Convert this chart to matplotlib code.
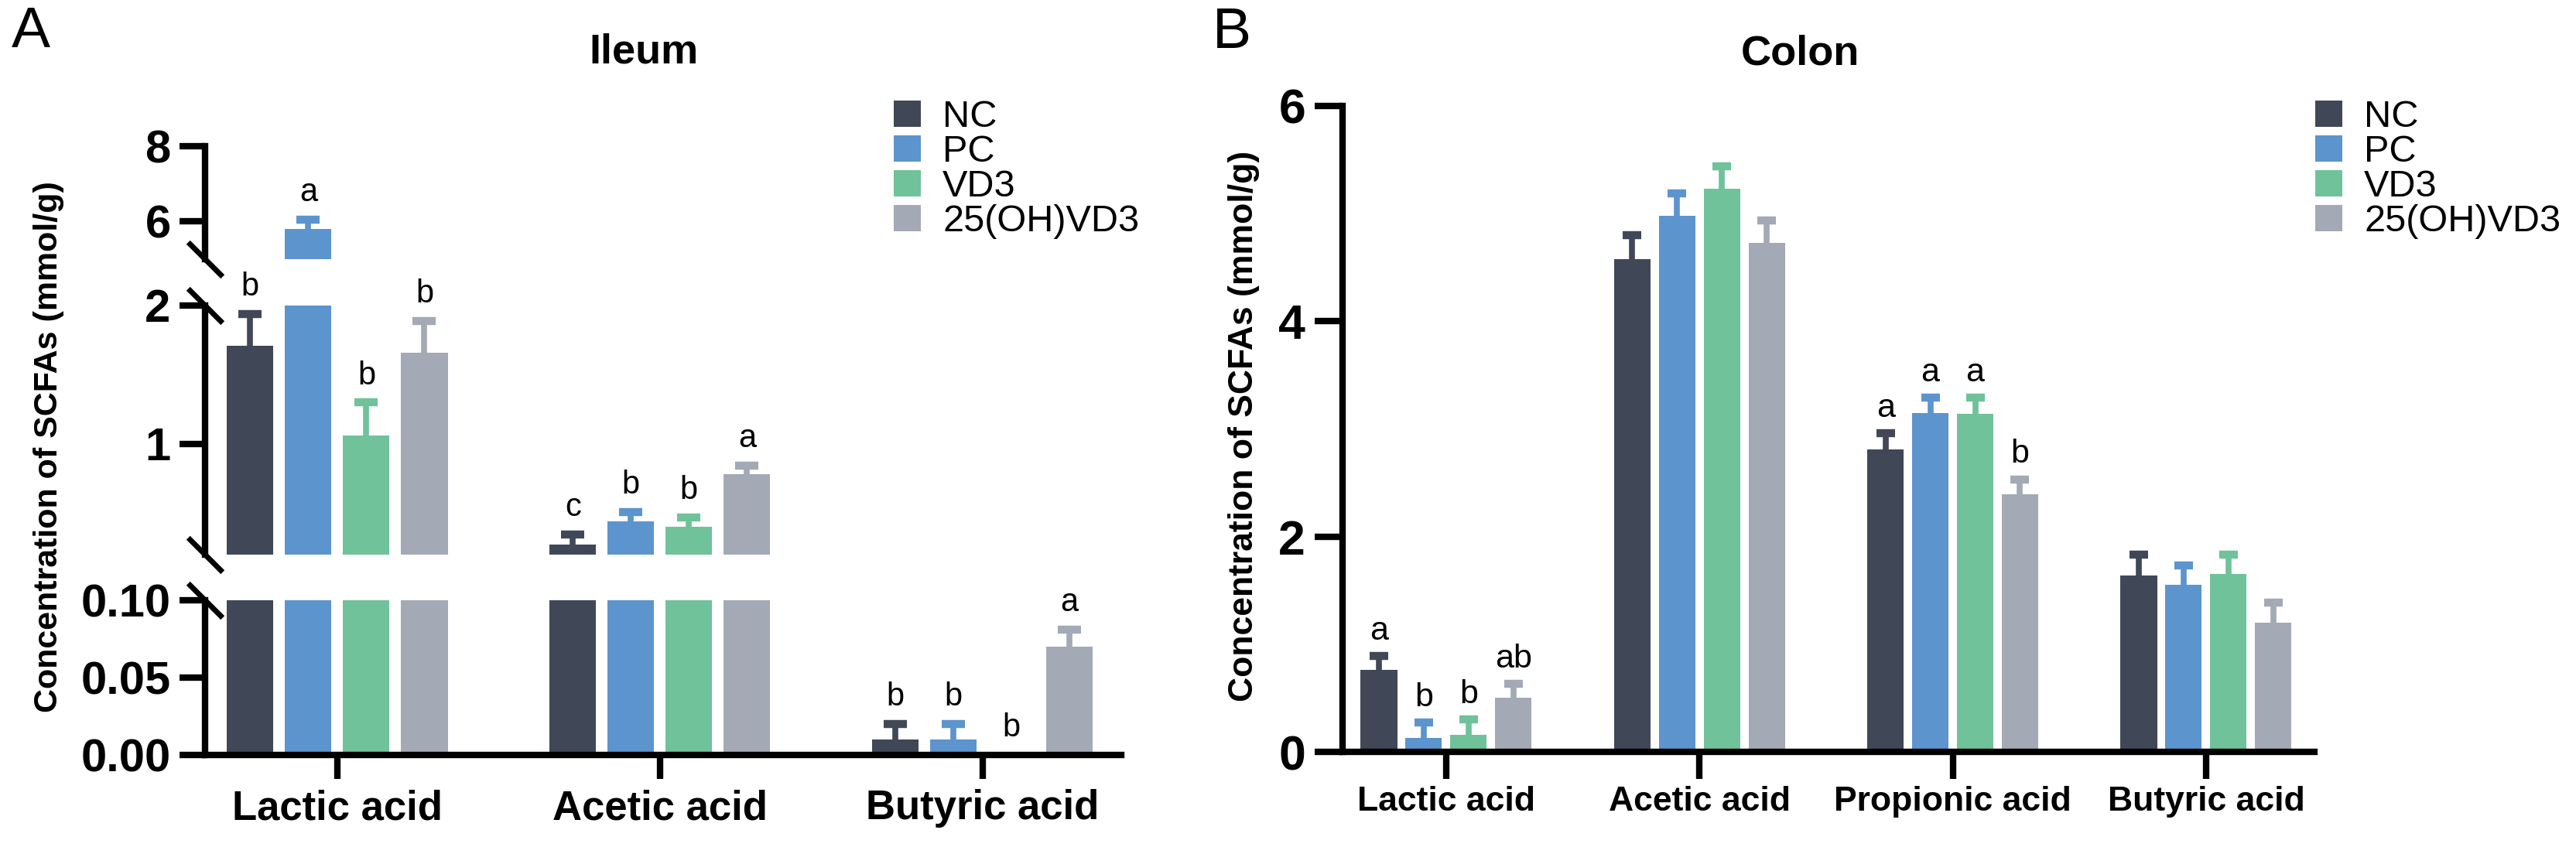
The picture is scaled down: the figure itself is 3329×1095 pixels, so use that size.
import numpy as np
import matplotlib.pyplot as plt
from matplotlib.patches import Patch

plt.rcParams['font.family'] = ['Liberation Sans', 'DejaVu Sans']

groups = ['NC', 'PC', 'VD3', '25(OH)VD3']
colors = ['#404757', '#5C94CE', '#6FC299', '#A3A9B5']

# Ileum (panel A)
ileum_acids = ['Lactic acid', 'Acetic acid', 'Butyric acid']
ileum_mean = [[1.71, 0.275, 0.01],
              [5.80, 0.44, 0.01],
              [1.06, 0.40, 0.0],
              [1.66, 0.78, 0.07]]
ileum_err = [[0.23, 0.07, 0.01],
             [0.24, 0.07, 0.01],
             [0.24, 0.07, 0.0],
             [0.23, 0.065, 0.011]]
ileum_letters = [['b', 'c', 'b'],
                 ['a', 'b', 'b'],
                 ['b', 'b', 'b'],
                 ['b', 'a', 'a']]

# Colon (panel B)
colon_acids = ['Lactic acid', 'Acetic acid', 'Propionic acid', 'Butyric acid']
colon_mean = [[0.76, 4.58, 2.81, 1.64],
              [0.13, 4.98, 3.15, 1.55],
              [0.16, 5.23, 3.14, 1.65],
              [0.50, 4.73, 2.39, 1.20]]
colon_err = [[0.13, 0.22, 0.15, 0.19],
             [0.14, 0.21, 0.14, 0.18],
             [0.14, 0.21, 0.15, 0.18],
             [0.13, 0.21, 0.14, 0.19]]
colon_letters = [['a', '', 'a', ''],
                 ['b', '', 'a', ''],
                 ['b', '', 'a', ''],
                 ['ab', '', 'b', '']]

W, H = 3329, 1095
fig = plt.figure(figsize=(W / 100, H / 100), dpi=100)


def rect(x0, y0, x1, y1):
    return [x0 / W, 1 - y1 / H, (x1 - x0) / W, (y1 - y0) / H]


LW = 6


def style(ax, ticks, labels, size, bottom):
    for s in ['top', 'right']:
        ax.spines[s].set_visible(False)
    ax.spines['left'].set_linewidth(LW)
    ax.spines['bottom'].set_linewidth(LW)
    ax.set_yticks(ticks, labels, fontsize=size, fontweight='bold')
    ax.tick_params(axis='y', length=24, width=LW, pad=8)
    if not bottom:
        ax.spines['bottom'].set_visible(False)
        ax.tick_params(axis='x', bottom=False, labelbottom=False)


def draw(ax, means, errs, step, width, capw):
    x = np.arange(len(means[0]))
    for i in range(4):
        xs = x + (i - 1.5) * step
        ax.bar(xs, means[i], width, color=colors[i], zorder=2)
        for xx, m, e in zip(xs, means[i], errs[i]):
            if e > 0:
                # upper error bar only: stem + cap
                ax.vlines(xx, m, m + e, color=colors[i], lw=5.5, zorder=1)
                ax.plot(xx, m + e, marker='_', markersize=capw, mew=7.5,
                        color=colors[i], zorder=1)


# ---- panel A: broken axis ----
step_a, width_a = 0.18, 0.144
ax_top = fig.add_axes(rect(265, 189, 1449, 334.5))
ax_mid = fig.add_axes(rect(265, 395, 1449, 717))
ax_bot = fig.add_axes(rect(265, 776, 1449, 976))
for ax, lim in [(ax_top, (5, 8)), (ax_mid, (0.2, 2.0)), (ax_bot, (0, 0.10))]:
    draw(ax, ileum_mean, ileum_err, step_a, width_a, 21.6)
    ax.set_ylim(*lim)
    ax.set_xlim(-0.41, 2.43)
style(ax_top, [6, 8], ['6', '8'], 43, False)
style(ax_mid, [1, 2], ['1', '2'], 43, False)
style(ax_bot, [0, 0.05, 0.10], ['0.00', '0.05', '0.10'], 43, True)
ax_bot.set_xticks(range(3), ileum_acids, fontsize=38, fontweight='bold')
ax_bot.tick_params(axis='x', length=22, width=LW, pad=10)

for ax, yy in [(ax_top, 0), (ax_mid, 1), (ax_mid, 0), (ax_bot, 1)]:
    ax.plot([0], [yy], transform=ax.transAxes, marker=[(-1, 1), (1, -1)],
            markersize=32, mew=5, color='k', clip_on=False, zorder=5)

for i in range(4):
    for j in range(3):
        top = ileum_mean[i][j] + ileum_err[i][j]
        ax = ax_top if top > 5 else (ax_mid if top > 0.2 else ax_bot)
        ax.annotate(ileum_letters[i][j], (j + (i - 1.5) * step_a, top),
                    xytext=(0, 17), textcoords='offset points', ha='center',
                    va='baseline', fontsize=30, annotation_clip=False)

fig.text(63 / W, 1 - 578 / H, 'Concentration of SCFAs (mmol/g)', rotation=90,
         ha='center', va='center', fontsize=31, fontweight='bold')
fig.text(832 / W, 1 - 68 / H, 'Ileum', ha='center', va='center', fontsize=39,
         fontweight='bold')
fig.text(15 / W, 1 - 7 / H, 'A', ha='left', va='top', fontsize=54)

handles = [Patch(facecolor=c) for c in colors]
fig.legend(handles, groups, loc='upper left', bbox_to_anchor=(1155 / W, 1 - 129 / H),
           frameon=False, fontsize=35, handlelength=0.72, handleheight=0.72,
           handletextpad=0.58, labelspacing=0.0, borderpad=0, borderaxespad=0)

# ---- panel B ----
step_b, width_b = 0.177, 0.144
axb = fig.add_axes(rect(1735, 137, 2991, 972))
draw(axb, colon_mean, colon_err, step_b, width_b, 16.6)
axb.set_ylim(0, 6)
axb.set_xlim(-0.409, 3.428)
style(axb, [0, 2, 4, 6], ['0', '2', '4', '6'], 45, True)
axb.tick_params(axis='y', length=26, pad=8.5)
axb.set_xticks(range(4), colon_acids, fontsize=32, fontweight='bold')
axb.tick_params(axis='x', length=25, width=LW, pad=7)

for i in range(4):
    for j in range(4):
        if colon_letters[i][j]:
            axb.annotate(colon_letters[i][j],
                         (j + (i - 1.5) * step_b, colon_mean[i][j] + colon_err[i][j]),
                         xytext=(0, 15.5), textcoords='offset points', ha='center',
                         va='baseline', fontsize=31, annotation_clip=False)

fig.text(1608 / W, 1 - 551 / H, 'Concentration of SCFAs (mmol/g)', rotation=90,
         ha='center', va='center', fontsize=32, fontweight='bold')
fig.text(2326 / W, 1 - 70 / H, 'Colon', ha='center', va='center', fontsize=39,
         fontweight='bold')
fig.text(1567 / W, 1 - 8 / H, 'B', ha='left', va='top', fontsize=54)

fig.legend(handles, groups, loc='upper left', bbox_to_anchor=(2992 / W, 1 - 129 / H),
           frameon=False, fontsize=35, handlelength=0.72, handleheight=0.72,
           handletextpad=0.58, labelspacing=0.0, borderpad=0, borderaxespad=0)

fig.savefig('out.png', dpi=100, facecolor='white')
